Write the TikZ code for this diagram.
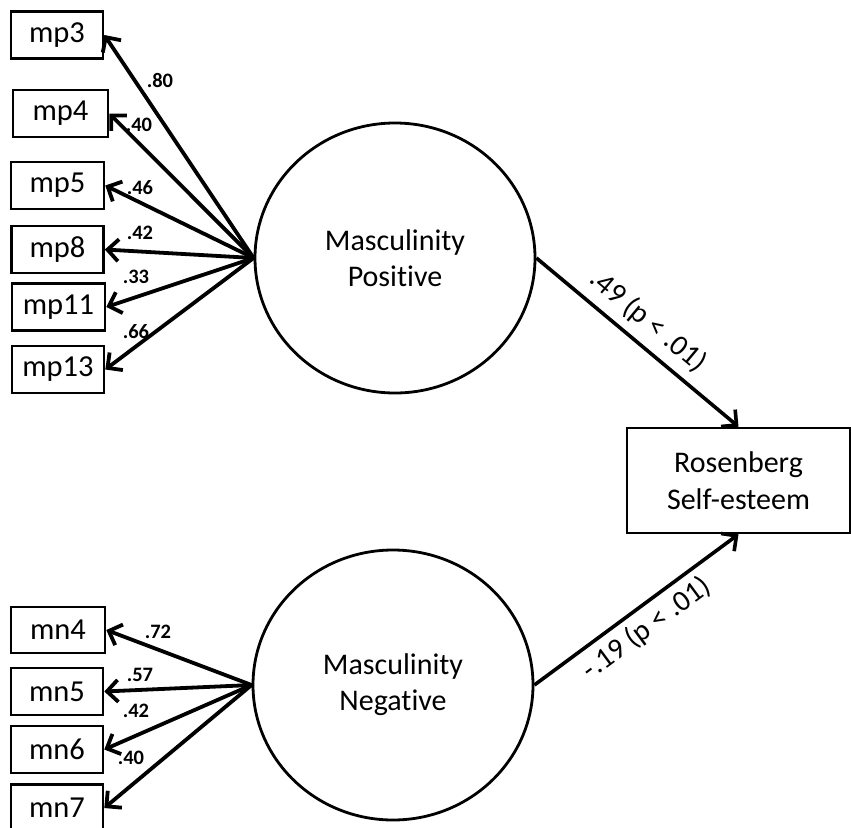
\documentclass[tikz,border=0pt]{standalone}
\usepackage{fontspec}
\setmainfont{Carlito}[Ligatures=NoCommon]
\usetikzlibrary{arrows.meta,shapes.geometric}
\begin{document}
\begin{tikzpicture}[x=1pt,y=-1pt,
  indicator/.style={draw, line width=2.6pt, minimum height=47pt, inner sep=0pt,
    font=\fontsize{30.5}{33}\selectfont},
  latent/.style={draw, ellipse, line width=2.8pt, minimum width=280pt,
    minimum height=270pt, inner sep=0pt, align=center,
    font=\fontsize{30}{36}\selectfont},
  outcome/.style={draw, line width=2.6pt, minimum width=223pt, minimum height=105pt,
    inner sep=0pt, align=center, font=\fontsize{30}{37}\selectfont},
  loading/.style={line width=3.8pt, -{Straight Barb[length=11pt,width=22pt]}},
  regression/.style={line width=3.6pt, -{Straight Barb[length=11pt,width=22pt]}},
  coef/.style={font=\bfseries\fontsize{20.5}{22}\selectfont, inner sep=0pt},
  pathcoef/.style={font=\fontsize{29.5}{30}\selectfont, sloped}]

\useasboundingbox (0,0) rectangle (851,827);
\fill[white] (0,0) rectangle (851,827);
\clip (0,0) rectangle (851,827);

% latent factors
\node[latent] (MP) at (395,258) {Masculinity\\Positive};
\node[latent] (MN) at (393,685) {Masculinity\\Negative};

% outcome
\node[outcome] (RSE) at (738.5,480.5) {Rosenberg\\Self-esteem};

% indicators of the positive factor
\node[indicator, minimum width=92pt] (mp3)  at (57,35)    {mp3};
\node[indicator, minimum width=95pt] (mp4)  at (60.5,113.5) {mp4};
\node[indicator, minimum width=93pt] (mp5)  at (57.5,185.5) {mp5};
\node[indicator, minimum width=92pt] (mp8)  at (57.5,249.5) {mp8};
\node[indicator, minimum width=93pt] (mp11) at (58.5,307)  {mp11};
\node[indicator, minimum width=92pt] (mp13) at (58,369.5)  {mp13};

% indicators of the negative factor
\node[indicator, minimum width=94pt, minimum height=46pt] (mn4) at (58,630) {mn4};
\node[indicator, minimum width=92pt] (mn5) at (57,691.5) {mn5};
\node[indicator, minimum width=92pt] (mn6) at (57,749.5) {mn6};
\node[indicator, minimum width=92pt] (mn7) at (57,808)   {mn7};

% loadings
\foreach \t in {mp3,mp4,mp5,mp8,mp11,mp13}
  \draw[loading] (MP.west) -- (\t.east);
\foreach \t in {mn4,mn5,mn6,mn7}
  \draw[loading] (MN.west) -- (\t.east);

\node[coef] (l3)  at (160,80)  {.80};
\node[coef] (l4)  at (139,125) {.40};
\node[coef] (l5)  at (140,188) {.46};
\node[coef] (l8)  at (140,233) {.42};
\node[coef] (l11) at (136,277) {.33};
\node[coef] (l13) at (136,332) {.66};

\node[coef] (n4) at (158,632) {.72};
\node[coef] (n5) at (140,675) {.57};
\node[coef] (n6) at (136,711) {.42};
\node[coef] (n7) at (131,758) {.40};

% structural paths
\draw[regression] (MP.east) -- node[pathcoef, above=5pt, pos=0.48] (bpos) {.49 (p < .01)} (RSE.north);
\draw[regression] (MN.east) -- node[pathcoef, below=3pt, pos=0.49] (bneg) {-.19 (p < .01)} (RSE.south);
\end{tikzpicture}
\end{document}
